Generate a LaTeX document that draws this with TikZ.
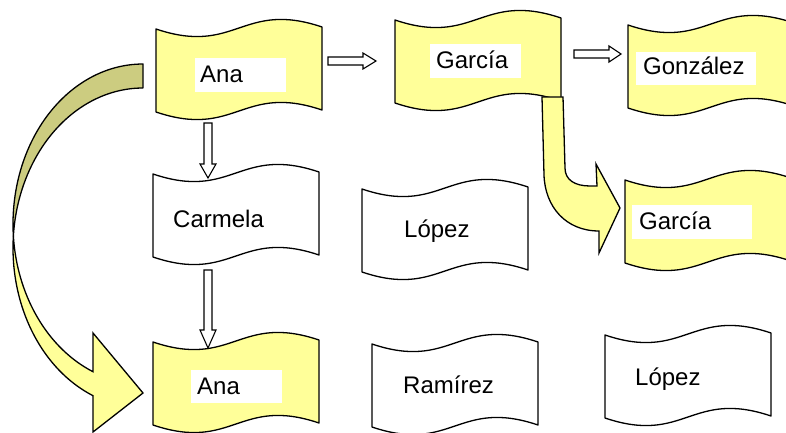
\documentclass[tikz,border=0pt]{standalone}
\usepackage{fontspec}
\setmainfont{Liberation Sans}
\definecolor{flagyellow}{HTML}{FFFF99}
\definecolor{flagolive}{HTML}{CCCC80}
% wave flag: #1 name, #2 x, #3 y (top-left, y down), #4 fill
\newcommand\wflag[4]{%
  \begin{scope}[shift={(#2,#3)}]
    \filldraw[flagline, fill=#4] (0,0) .. controls (80,27) and (86,-29) .. (166,-2)
      -- (166,81) .. controls (86,54) and (80,110) .. (0,83) -- cycle;
    \coordinate (#1) at (83,41);
  \end{scope}}
% hollow block arrow: #1 start, #2 length, #3 angle, #4 head length
\newcommand\blockarrow[4]{%
  \filldraw[blk, shift={#1}, rotate=#3] (0,4) -- ({#2-#4},4) -- ({#2-#4},8) -- (#2,0)
    -- ({#2-#4},-8) -- ({#2-#4},-4) -- (0,-4) -- cycle;}
\begin{document}
\begin{tikzpicture}[x=1pt,y=-1pt,
  flagline/.style={draw=black, line width=1.3pt, line join=round},
  lbl/.style={anchor=base west, inner sep=0pt, font=\fontsize{24}{28}\selectfont},
  blk/.style={draw=black, line width=1.1pt, fill=white, line join=miter}]
\useasboundingbox (0,0) rectangle (786,433);
\clip (0,0) rectangle (786,433);

% flags
\wflag{A1}{156}{29}{flagyellow}
\wflag{G1}{395}{20}{flagyellow}
\wflag{Gz}{628}{25}{flagyellow}
\wflag{C}{153}{174}{white}
\wflag{L1}{362}{189}{white}
\wflag{G2}{625}{180}{flagyellow}
\wflag{A2}{153}{342}{flagyellow}
\wflag{R}{372}{344}{white}
\wflag{L2}{605}{335}{white}

% white label boxes
\fill[white] (195,58) rectangle (286,92);
\fill[white] (430,44) rectangle (521,78);
\fill[white] (636,52) rectangle (756,85);
\fill[white] (632,205) rectangle (752,239);
\fill[white] (191,370) rectangle (282,403);

% texts
\node[lbl] (tA1) at (200,83) {Ana};
\node[lbl] (tG1) at (436,69) {García};
\node[lbl] (tGz) at (643,75) {González};
\node[lbl] (tG2) at (639,229) {García};
\node[lbl] (tA2) at (197,394) {Ana};
\node[lbl] (tC) at (173,227) {Carmela};
\node[lbl] (tL1) at (404,237) {López};
\node[lbl] (tR) at (403,393) {Ramírez};
\node[lbl] (tL2) at (635,385) {López};

% hollow block arrows
\blockarrow{(328,61)}{48}{0}{13}
\blockarrow{(574,54)}{47}{0}{12}
\blockarrow{(208,123)}{55}{-90}{14}
\blockarrow{(208,270)}{78}{-90}{18}

% curved arrow from Ana (top) to Ana (bottom)
\filldraw[flagline, fill=flagolive]
  plot[domain=270:175.7, samples=60] ({143+130*cos(\x)},{224+160*sin(\x)})
  -- plot[domain=184.3:270, samples=60] ({143+130*cos(\x)},{248+160*sin(\x)}) -- cycle;
\filldraw[flagline, fill=flagyellow, line join=miter]
  plot[domain=184.3:112.6, samples=60] ({143+130*cos(\x)},{248+160*sin(\x)})
  -- (93,432) -- (143,393) -- (93,333)
  -- plot[domain=112.6:175.7, samples=60] ({143+130*cos(\x)},{224+160*sin(\x)}) -- cycle;

% bent arrow from García to García
\filldraw[flagline, fill=flagyellow, line join=miter]
  (542,97) -- (563,97) -- (565,168) .. controls (565,180) and (575,186) .. (590,186)
  -- (597,186) -- (596,164) -- (620,208) -- (599,253) -- (599,231)
  .. controls (566,231) and (545,207) .. (544,175) -- cycle;
\end{tikzpicture}
\end{document}
